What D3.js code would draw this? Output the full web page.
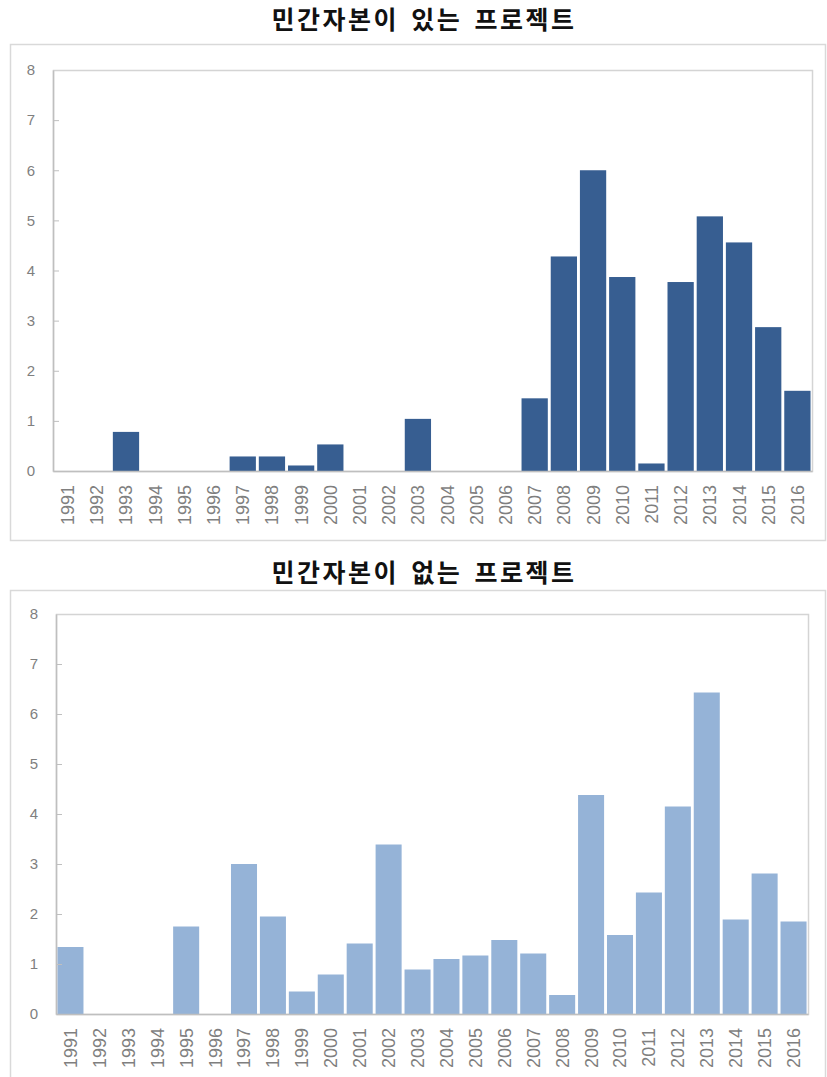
<!DOCTYPE html>
<html>
<head>
<meta charset="utf-8">
<script src="https://cdn.jsdelivr.net/npm/d3@7/dist/d3.min.js"></script>
<style>
  html, body { margin: 0; padding: 0; background: #ffffff; }
  svg { display: block; }
  .title { font-family: "Noto Sans CJK KR", sans-serif; font-weight: 700; font-size: 25px; fill: #111; letter-spacing: 2.5px; word-spacing: 4px; }
  .y-axis text { font-family: "Liberation Sans", Arial, sans-serif; font-size: 15px; fill: #7f7f7f; }
  .x-axis text { font-family: "Liberation Sans", Arial, sans-serif; font-size: 18px; fill: #7f7f7f; }
</style>
</head>
<body>
<svg id="chart" width="827" height="1077"></svg>
<script>
// Years on the category axis
const years = ["1991","1992","1993","1994","1995","1996","1997","1998","1999","2000",
               "2001","2002","2003","2004","2005","2006","2007","2008","2009","2010",
               "2011","2012","2013","2014","2015","2016"];

// Projects with private capital
const withPrivate = [0, 0, 0.78, 0, 0, 0, 0.29, 0.29, 0.11, 0.53,
                     0, 0, 1.04, 0, 0, 0, 1.45, 4.28, 6.0, 3.87,
                     0.15, 3.77, 5.08, 4.56, 2.87, 1.6];

// Projects without private capital
const withoutPrivate = [1.34, 0, 0, 0, 1.75, 0, 3.0, 1.95, 0.45, 0.79,
                        1.41, 3.39, 0.89, 1.1, 1.17, 1.48, 1.21, 0.38, 4.38, 1.58,
                        2.43, 4.15, 6.43, 1.89, 2.81, 1.85];

const yTicks = [0, 1, 2, 3, 4, 5, 6, 7, 8];

const titles = ["민간자본이 있는 프로젝트", "민간자본이 없는 프로젝트"];

const svg = d3.select("#chart");

function drawPanel(opts) {
  const g = svg.append("g");

  // outer chart frame
  g.append("rect")
    .attr("x", opts.frame[0] + 0.5).attr("y", opts.frame[1] + 0.5)
    .attr("width", opts.frame[2]).attr("height", opts.frame[3])
    .attr("fill", "none").attr("stroke", "#d9d9d9").attr("stroke-width", 1.5);

  // heading
  g.append("text").attr("class", "title")
    .attr("x", opts.titleX).attr("y", opts.titleY)
    .attr("text-anchor", "middle")
    .text(opts.title);

  const x = d3.scaleBand().domain(years)
    .range([opts.left, opts.right])
    .paddingInner(0.1).paddingOuter(0.05);
  const y = d3.scaleLinear().domain([0, 8]).range([opts.bottom, opts.top]);

  // plot area border
  g.append("rect")
    .attr("x", opts.left + 0.5).attr("y", opts.top + 0.5)
    .attr("width", opts.right - opts.left).attr("height", opts.bottom - opts.top)
    .attr("fill", "none").attr("stroke", "#d4d4d4").attr("stroke-width", 1.5);

  // bars
  g.append("g").selectAll("rect")
    .data(years.map((yr, i) => ({ yr, v: opts.values[i] })))
    .join("rect")
    .attr("x", d => x(d.yr))
    .attr("width", x.bandwidth())
    .attr("y", d => y(d.v))
    .attr("height", d => y(0) - y(d.v))
    .attr("fill", opts.color);

  // value axis with short inward ticks
  const yAxis = g.append("g").attr("class", "y-axis")
    .attr("transform", `translate(${opts.left},0)`)
    .call(d3.axisLeft(y).tickValues(yTicks).tickFormat(d3.format("d"))
      .tickSizeInner(-6).tickSizeOuter(0).tickPadding(18));
  yAxis.select(".domain").attr("stroke", "#bfbfbf").attr("stroke-width", 1.5);
  yAxis.selectAll(".tick line").attr("stroke", "#bfbfbf");
  yAxis.selectAll(".tick").filter(d => d === 0 || d === 8).select("line").remove();

  // category axis with vertical year labels
  const xAxis = g.append("g").attr("class", "x-axis")
    .attr("transform", `translate(0,${opts.bottom})`)
    .call(d3.axisBottom(x).tickSize(0).tickPadding(0));
  xAxis.select(".domain").attr("stroke", "#bfbfbf").attr("stroke-width", 1.5);
  xAxis.selectAll(".tick text")
    .attr("transform", "rotate(-90)")
    .attr("x", -14).attr("y", 0).attr("dy", "0.36em")
    .attr("text-anchor", "end");
}

drawPanel({
  title: titles[0], titleX: 424, titleY: 29,
  frame: [10, 44, 815, 496],
  left: 53, right: 812, top: 70, bottom: 471,
  values: withPrivate, color: "#375e91"
});

drawPanel({
  title: titles[1], titleX: 424, titleY: 582,
  frame: [10, 590, 815, 500],
  left: 56, right: 808, top: 614, bottom: 1014,
  values: withoutPrivate, color: "#95b3d7"
});
</script>
</body>
</html>
